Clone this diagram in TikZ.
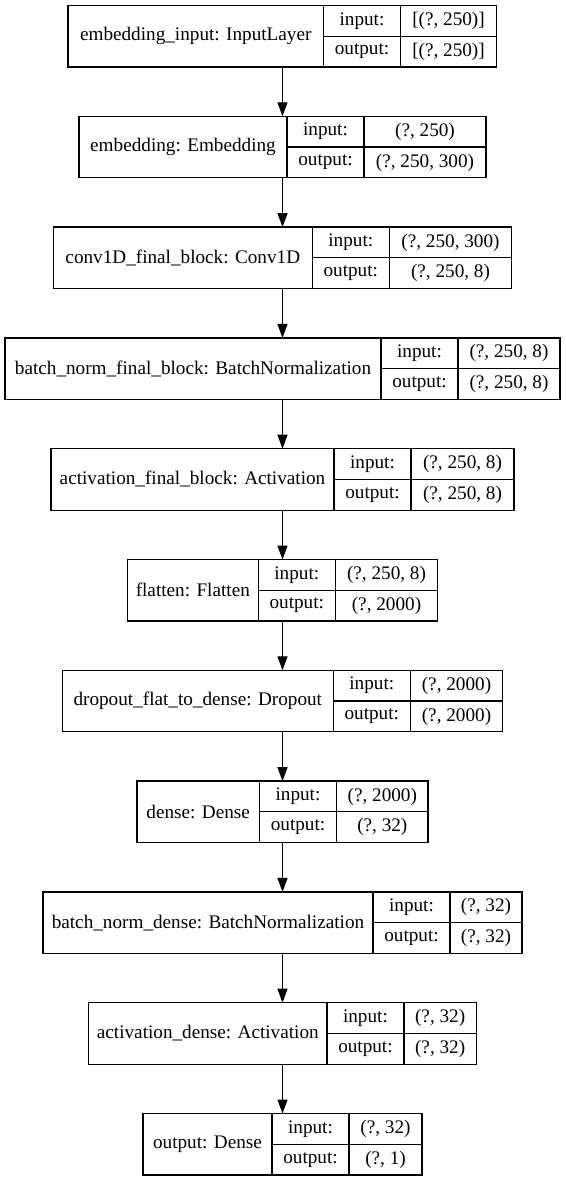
\documentclass[tikz,border=0pt]{standalone}
\usepackage{fontspec}
\setmainfont{Liberation Serif}
\usepackage{tikz}
\usetikzlibrary{positioning,arrows.meta}

\begin{document}
\begin{tikzpicture}[
    x=1pt, y=-1pt,
    every node/.style={font=\fontsize{19.2}{22}\selectfont, inner sep=0pt, outer sep=0pt},
    frame/.style={minimum height=61.5pt},
    lbl/.style={draw, line width=1.25pt, minimum height=61.5pt, anchor=west},
    cell/.style={draw, line width=1.25pt, minimum height=30.75pt, minimum width=77pt},
    arr/.style={-{Triangle[length=14pt, width=10pt]}, line width=1.25pt}
]
\useasboundingbox (0,0) rectangle (565,1180);

% embedding_input
\node[frame, minimum width=429pt] (embin) at (282.5,36.25) {};
\node[lbl, minimum width=255.5pt] (embin-name) at (embin.west) {embedding\_input: InputLayer};
\node[cell, anchor=north west] (embin-in) at (embin-name.north east) {input:};
\node[cell, below=0pt of embin-in] (embin-out) {output:};
\node[cell, minimum width=96pt, right=0pt of embin-in] (embin-inv) {[(?, 250)]};
\node[cell, minimum width=96pt, right=0pt of embin-out] (embin-outv) {[(?, 250)]};

% embedding
\node[frame, minimum width=407pt] (emb) at (282.5,147.05) {};
\node[lbl, minimum width=208pt] (emb-name) at (emb.west) {embedding: Embedding};
\node[cell, anchor=north west] (emb-in) at (emb-name.north east) {input:};
\node[cell, below=0pt of emb-in] (emb-out) {output:};
\node[cell, minimum width=122pt, right=0pt of emb-in] (emb-inv) {(?, 250)};
\node[cell, minimum width=122pt, right=0pt of emb-out] (emb-outv) {(?, 250, 300)};

% conv1D
\node[frame, minimum width=458.4pt] (conv) at (282.5,257.85) {};
\node[lbl, minimum width=259pt] (conv-name) at (conv.west) {conv1D\_final\_block: Conv1D};
\node[cell, anchor=north west] (conv-in) at (conv-name.north east) {input:};
\node[cell, below=0pt of conv-in] (conv-out) {output:};
\node[cell, minimum width=122.4pt, right=0pt of conv-in] (conv-inv) {(?, 250, 300)};
\node[cell, minimum width=122.4pt, right=0pt of conv-out] (conv-outv) {(?, 250, 8)};

% batch norm final block
\node[frame, minimum width=555pt] (bnfb) at (282.5,368.65) {};
\node[lbl, minimum width=376pt] (bnfb-name) at (bnfb.west) {batch\_norm\_final\_block: BatchNormalization};
\node[cell, anchor=north west] (bnfb-in) at (bnfb-name.north east) {input:};
\node[cell, below=0pt of bnfb-in] (bnfb-out) {output:};
\node[cell, minimum width=102pt, right=0pt of bnfb-in] (bnfb-inv) {(?, 250, 8)};
\node[cell, minimum width=102pt, right=0pt of bnfb-out] (bnfb-outv) {(?, 250, 8)};

% activation final block
\node[frame, minimum width=463pt] (actfb) at (282.5,479.45) {};
\node[lbl, minimum width=283pt] (actfb-name) at (actfb.west) {activation\_final\_block: Activation};
\node[cell, anchor=north west] (actfb-in) at (actfb-name.north east) {input:};
\node[cell, below=0pt of actfb-in] (actfb-out) {output:};
\node[cell, minimum width=103pt, right=0pt of actfb-in] (actfb-inv) {(?, 250, 8)};
\node[cell, minimum width=103pt, right=0pt of actfb-out] (actfb-outv) {(?, 250, 8)};

% flatten
\node[frame, minimum width=310.4pt] (flat) at (282.5,590.25) {};
\node[lbl, minimum width=131pt] (flat-name) at (flat.west) {flatten: Flatten};
\node[cell, anchor=north west] (flat-in) at (flat-name.north east) {input:};
\node[cell, below=0pt of flat-in] (flat-out) {output:};
\node[cell, minimum width=102.4pt, right=0pt of flat-in] (flat-inv) {(?, 250, 8)};
\node[cell, minimum width=102.4pt, right=0pt of flat-out] (flat-outv) {(?, 2000)};

% dropout
\node[frame, minimum width=440.4pt] (drop) at (282.5,701.05) {};
\node[lbl, minimum width=271pt] (drop-name) at (drop.west) {dropout\_flat\_to\_dense: Dropout};
\node[cell, anchor=north west] (drop-in) at (drop-name.north east) {input:};
\node[cell, below=0pt of drop-in] (drop-out) {output:};
\node[cell, minimum width=92.4pt, right=0pt of drop-in] (drop-inv) {(?, 2000)};
\node[cell, minimum width=92.4pt, right=0pt of drop-out] (drop-outv) {(?, 2000)};

% dense
\node[frame, minimum width=291.2pt] (dense) at (282.5,811.85) {};
\node[lbl, minimum width=122.6pt] (dense-name) at (dense.west) {dense: Dense};
\node[cell, anchor=north west] (dense-in) at (dense-name.north east) {input:};
\node[cell, below=0pt of dense-in] (dense-out) {output:};
\node[cell, minimum width=91.6pt, right=0pt of dense-in] (dense-inv) {(?, 2000)};
\node[cell, minimum width=91.6pt, right=0pt of dense-out] (dense-outv) {(?, 32)};

% batch norm dense
\node[frame, minimum width=479pt] (bnd) at (282.5,922.65) {};
\node[lbl, minimum width=330pt] (bnd-name) at (bnd.west) {batch\_norm\_dense: BatchNormalization};
\node[cell, anchor=north west] (bnd-in) at (bnd-name.north east) {input:};
\node[cell, below=0pt of bnd-in] (bnd-out) {output:};
\node[cell, minimum width=72pt, right=0pt of bnd-in] (bnd-inv) {(?, 32)};
\node[cell, minimum width=72pt, right=0pt of bnd-out] (bnd-outv) {(?, 32)};

% activation dense
\node[frame, minimum width=387.7pt] (actd) at (282.5,1033.45) {};
\node[lbl, minimum width=238.3pt] (actd-name) at (actd.west) {activation\_dense: Activation};
\node[cell, anchor=north west] (actd-in) at (actd-name.north east) {input:};
\node[cell, below=0pt of actd-in] (actd-out) {output:};
\node[cell, minimum width=72.4pt, right=0pt of actd-in] (actd-inv) {(?, 32)};
\node[cell, minimum width=72.4pt, right=0pt of actd-out] (actd-outv) {(?, 32)};

% output
\node[frame, minimum width=279pt] (outp) at (282.5,1144.25) {};
\node[lbl, minimum width=129pt] (outp-name) at (outp.west) {output: Dense};
\node[cell, anchor=north west] (outp-in) at (outp-name.north east) {input:};
\node[cell, below=0pt of outp-in] (outp-out) {output:};
\node[cell, minimum width=73pt, right=0pt of outp-in] (outp-inv) {(?, 32)};
\node[cell, minimum width=73pt, right=0pt of outp-out] (outp-outv) {(?, 1)};

\draw[arr] (embin) -- (emb);
\draw[arr] (emb) -- (conv);
\draw[arr] (conv) -- (bnfb);
\draw[arr] (bnfb) -- (actfb);
\draw[arr] (actfb) -- (flat);
\draw[arr] (flat) -- (drop);
\draw[arr] (drop) -- (dense);
\draw[arr] (dense) -- (bnd);
\draw[arr] (bnd) -- (actd);
\draw[arr] (actd) -- (outp);
\end{tikzpicture}
\end{document}
